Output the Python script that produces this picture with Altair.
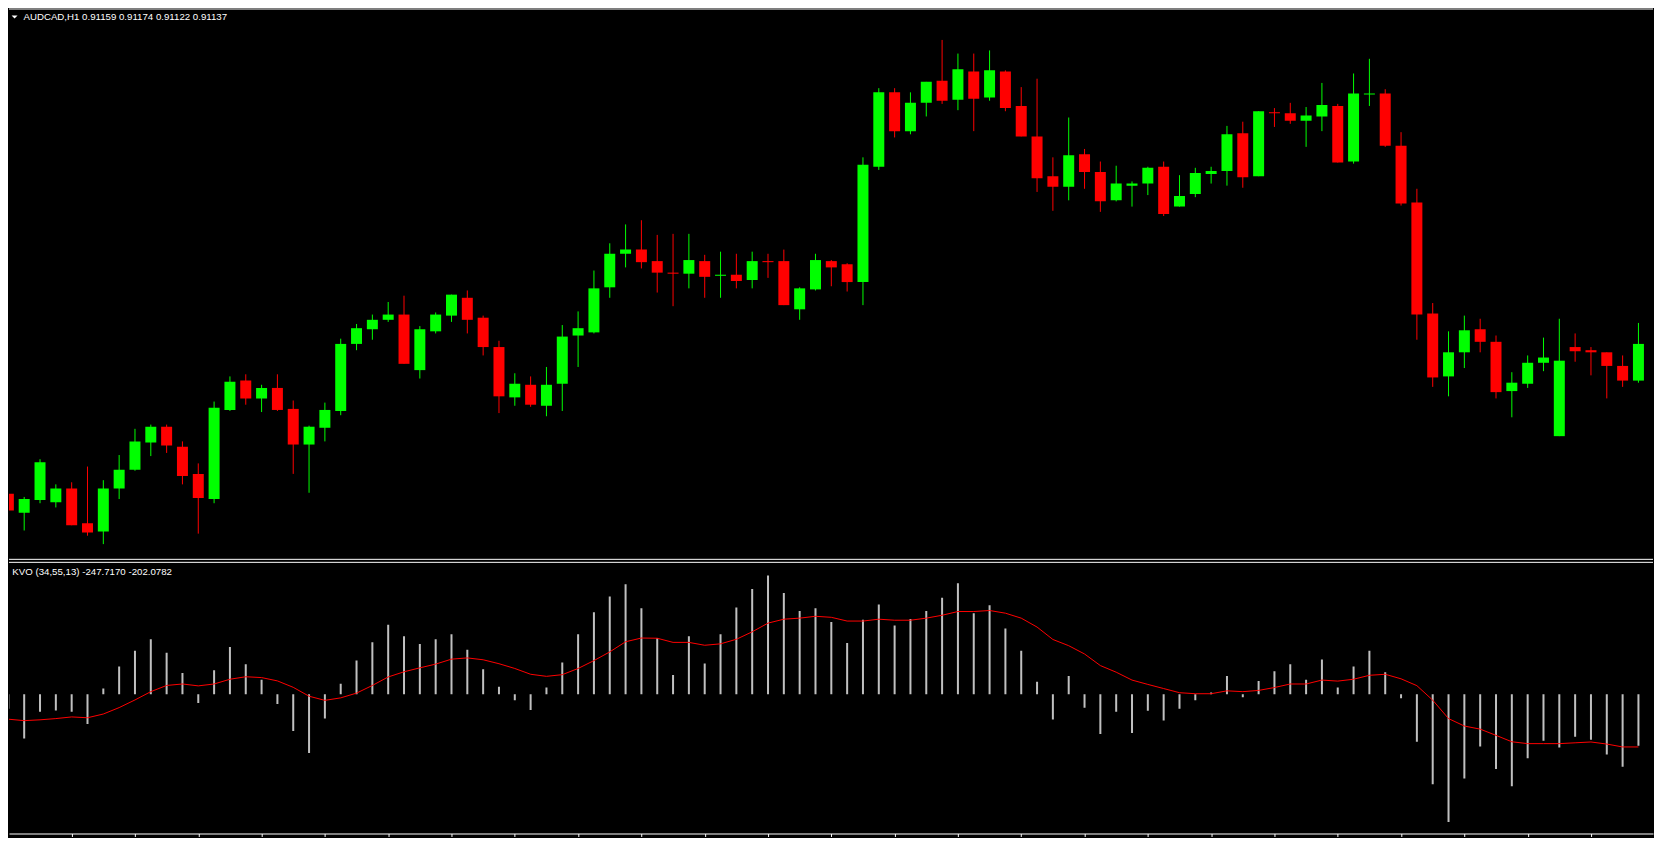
import altair as alt
import pandas as pd

# ---------------- data ----------------
header_text = "AUDCAD,H1  0.91159 0.91174 0.91122 0.91137"
kvo_text = "KVO (34,55,13)  -247.7170 -202.0782"

opens = [0.90986, 0.90968, 0.90980, 0.90978, 0.90991, 0.90958, 0.90950, 0.90991, 0.91009, 0.91035,
         0.91050, 0.91031, 0.91005, 0.90981, 0.91066, 0.91094, 0.91077, 0.91087, 0.91067, 0.91033,
         0.91049, 0.91065, 0.91129, 0.91143, 0.91152, 0.91157, 0.91104, 0.91141, 0.91156, 0.91173,
         0.91154, 0.91126, 0.91078, 0.91090, 0.91070, 0.91091, 0.91137, 0.91140, 0.91183, 0.91215,
         0.91219, 0.91208, 0.91197, 0.91196, 0.91208, 0.91194, 0.91195, 0.91190, 0.91208, 0.91208,
         0.91162, 0.91181, 0.91208, 0.91205, 0.91188, 0.91298, 0.91369, 0.91332, 0.91359, 0.91380,
         0.91362, 0.91389, 0.91364, 0.91389, 0.91356, 0.91327, 0.91289, 0.91279, 0.91310, 0.91293,
         0.91266, 0.91280, 0.91282, 0.91298, 0.91260, 0.91272, 0.91291, 0.91294, 0.91330, 0.91289,
         0.91350, 0.91349, 0.91342, 0.91346, 0.91356, 0.91303, 0.91367, 0.91368, 0.91318, 0.91264,
         0.91158, 0.91098, 0.91121, 0.91143, 0.91131, 0.91084, 0.91091, 0.91111, 0.91041, 0.91126,
         0.91123, 0.91121, 0.91108, 0.91094]

highs = [0.90988, 0.90983, 0.91019, 0.90995, 0.90997, 0.91012, 0.90999, 0.91023, 0.91048, 0.91052,
         0.91052, 0.91036, 0.91015, 0.91074, 0.91098, 0.91100, 0.91090, 0.91100, 0.91075, 0.91051,
         0.91073, 0.91134, 0.91148, 0.91157, 0.91169, 0.91175, 0.91146, 0.91159, 0.91176, 0.91180,
         0.91156, 0.91132, 0.91101, 0.91098, 0.91107, 0.91147, 0.91160, 0.91199, 0.91225, 0.91243,
         0.91247, 0.91233, 0.91234, 0.91234, 0.91214, 0.91217, 0.91215, 0.91217, 0.91215, 0.91219,
         0.91183, 0.91215, 0.91209, 0.91206, 0.91307, 0.91373, 0.91373, 0.91369, 0.91379, 0.91419,
         0.91406, 0.91406, 0.91409, 0.91390, 0.91374, 0.91382, 0.91307, 0.91345, 0.91315, 0.91303,
         0.91299, 0.91284, 0.91298, 0.91303, 0.91290, 0.91297, 0.91298, 0.91337, 0.91341, 0.91351,
         0.91354, 0.91359, 0.91355, 0.91378, 0.91358, 0.91387, 0.91401, 0.91372, 0.91331, 0.91277,
         0.91168, 0.91141, 0.91156, 0.91153, 0.91137, 0.91102, 0.91118, 0.91135, 0.91153, 0.91139,
         0.91126, 0.91121, 0.91118, 0.91149]

lows = [0.90968, 0.90951, 0.90977, 0.90973, 0.90956, 0.90946, 0.90938, 0.90981, 0.91008, 0.91022,
        0.91025, 0.90995, 0.90948, 0.90977, 0.91065, 0.91071, 0.91064, 0.91065, 0.91005, 0.90987,
        0.91036, 0.91061, 0.91123, 0.91133, 0.91150, 0.91110, 0.91096, 0.91139, 0.91150, 0.91139,
        0.91118, 0.91063, 0.91070, 0.91069, 0.91060, 0.91065, 0.91107, 0.91139, 0.91173, 0.91202,
        0.91201, 0.91178, 0.91165, 0.91182, 0.91173, 0.91173, 0.91182, 0.91182, 0.91192, 0.91166,
        0.91152, 0.91180, 0.91184, 0.91179, 0.91166, 0.91295, 0.91326, 0.91329, 0.91346, 0.91358,
        0.91352, 0.91332, 0.91361, 0.91351, 0.91327, 0.91274, 0.91256, 0.91266, 0.91277, 0.91255,
        0.91265, 0.91260, 0.91271, 0.91251, 0.91260, 0.91269, 0.91282, 0.91280, 0.91278, 0.91289,
        0.91336, 0.91339, 0.91317, 0.91332, 0.91302, 0.91301, 0.91356, 0.91317, 0.91261, 0.91133,
        0.91088, 0.91079, 0.91106, 0.91121, 0.91077, 0.91059, 0.91087, 0.91103, 0.91041, 0.91112,
        0.91099, 0.91077, 0.91088, 0.91092]

closes = [0.90970, 0.90981, 0.91016, 0.90991, 0.90956, 0.90949, 0.90991, 0.91009, 0.91036, 0.91050,
          0.91032, 0.91003, 0.90982, 0.91068, 0.91093, 0.91077, 0.91087, 0.91066, 0.91033, 0.91050,
          0.91066, 0.91129, 0.91144, 0.91152, 0.91157, 0.91110, 0.91143, 0.91157, 0.91176, 0.91152,
          0.91126, 0.91079, 0.91091, 0.91071, 0.91090, 0.91136, 0.91144, 0.91182, 0.91215, 0.91219,
          0.91207, 0.91197, 0.91196, 0.91209, 0.91193, 0.91195, 0.91189, 0.91208, 0.91207, 0.91166,
          0.91182, 0.91209, 0.91202, 0.91188, 0.91300, 0.91369, 0.91332, 0.91359, 0.91379, 0.91361,
          0.91391, 0.91363, 0.91390, 0.91354, 0.91327, 0.91287, 0.91279, 0.91309, 0.91293, 0.91265,
          0.91282, 0.91282, 0.91297, 0.91253, 0.91270, 0.91292, 0.91294, 0.91329, 0.91288, 0.91351,
          0.91349, 0.91342, 0.91347, 0.91357, 0.91302, 0.91368, 0.91368, 0.91318, 0.91263, 0.91157,
          0.91097, 0.91121, 0.91142, 0.91131, 0.91083, 0.91092, 0.91111, 0.91116, 0.91113, 0.91122,
          0.91121, 0.91108, 0.91094, 0.91129]

kvo_hist = [-70, -213, -84, -78, -84, -143, 28, 135, 210, 266,
            201, 103, -42, 117, 229, 145, 70, -47, -177, -283,
            -117, 51, 163, 252, 336, 280, 243, 266, 290, 215,
            121, 37, -28, -75, 33, 154, 290, 397, 472, 532,
            416, 271, 93, 280, 149, 290, 420, 509, 574, 490,
            402, 416, 350, 248, 360, 434, 332, 364, 402, 467,
            537, 392, 430, 318, 210, 61, -121, 89, -65, -191,
            -84, -187, -79, -126, -70, -28, 9, 89, -14, 65,
            112, 145, 70, 168, 33, 135, 210, 107, -19, -229,
            -434, -616, -406, -252, -360, -444, -308, -224, -257, -205,
            -219, -290, -350, -247.717]

kvo_signal = [-120, -127, -123, -117, -109, -113, -95, -64, -27, 13,
              43, 50, 41, 50, 73, 85, 81, 65, 34, -9,
              -29, -17, 6, 43, 84, 109, 128, 146, 170, 176,
              167, 148, 125, 97, 87, 95, 125, 163, 205, 254,
              272, 271, 251, 251, 237, 244, 266, 302, 344, 363,
              368, 377, 372, 354, 354, 363, 358, 358, 368, 382,
              400, 400, 405, 392, 368, 325, 265, 235, 195, 139,
              107, 69, 48, 28, 8, 3, 3, 17, 13, 19,
              33, 50, 50, 69, 64, 73, 92, 97, 75, 42,
              -28, -117, -153, -168, -198, -229, -238, -238, -238, -234,
              -230, -240, -254, -254]

tick_bars = list(range(4, 101, 4))

# ---------------- layout ----------------
W = 1646
H1 = 552
H2 = 272
XDOM = [0.04, 103.92]
PRICE_DOM = [0.90923, 0.91449]
KVO_DOM = [-672, 640]

n = len(opens)
df = pd.DataFrame({"bar": list(range(n)), "open": opens, "high": highs,
                   "low": lows, "close": closes})
df["dir"] = ["up" if c >= o else "down" for o, c in zip(opens, closes)]

kdf = pd.DataFrame({"bar": list(range(n)), "hist": kvo_hist, "signal": kvo_signal})
one = pd.DataFrame({"a": [0]})

color = alt.Color("dir:N", scale=alt.Scale(domain=["up", "down"], range=["#00ff00", "#ff0000"]),
                  legend=None)
xp = alt.X("bar:Q", scale=alt.Scale(domain=XDOM, nice=False, zero=False, padding=0), axis=None)
yp = alt.Scale(domain=PRICE_DOM, nice=False, zero=False, padding=0)

wicks = alt.Chart(df).mark_rule(strokeWidth=1, clip=True).encode(
    x=xp, y=alt.Y("low:Q", scale=yp, axis=None), y2="high:Q", color=color)
bodies = alt.Chart(df).mark_bar(size=11, clip=True).encode(
    x=xp, y=alt.Y("open:Q", scale=yp, axis=None), y2="close:Q", color=color)

top_rule = alt.Chart(one).mark_rule(color="#ffffff", strokeWidth=1).encode(
    x=alt.value(0), x2=alt.value(W), y=alt.value(0.5))
bot_rule = alt.Chart(one).mark_rule(color="#ffffff", strokeWidth=1).encode(
    x=alt.value(0), x2=alt.value(W), y=alt.value(H1 - 0.5))
tri = alt.Chart(one).mark_point(shape="M-1,-0.5L1,-0.5L0,0.5Z", filled=True, color="#ffffff",
                                opacity=1, size=36).encode(x=alt.value(5.6), y=alt.value(8.6))
head = alt.Chart(one).mark_text(text=header_text, align="left", baseline="alphabetic",
                                font="Liberation Sans", fontSize=9.7, color="#ffffff").encode(
    x=alt.value(14.5), y=alt.value(11.2))

price = alt.layer(wicks, bodies, top_rule, bot_rule, tri, head).properties(width=W, height=H1)

xk = alt.X("bar:Q", scale=alt.Scale(domain=XDOM, nice=False, zero=False, padding=0),
           axis=alt.Axis(values=tick_bars, labels=False, title=None, grid=False,
                         domainColor="#ffffff", tickColor="#ffffff", tickSize=3,
                         domainWidth=1, tickWidth=1))
yk = alt.Scale(domain=KVO_DOM, nice=False, zero=False, padding=0)

hist = alt.Chart(kdf).mark_bar(size=2, color="#c0c0c0", clip=True).encode(
    x=xk, y=alt.Y("hist:Q", scale=yk, axis=None), y2=alt.datum(0))
sig = alt.Chart(kdf).mark_line(color="#ff0000", strokeWidth=1, clip=True).encode(
    x=xk, y=alt.Y("signal:Q", scale=yk, axis=None))
k_top = alt.Chart(one).mark_rule(color="#ffffff", strokeWidth=1).encode(
    x=alt.value(0), x2=alt.value(W), y=alt.value(0.5))
k_lab = alt.Chart(one).mark_text(text=kvo_text, align="left", baseline="alphabetic",
                                 font="Liberation Sans", fontSize=9.7, color="#ffffff").encode(
    x=alt.value(3.3), y=alt.value(12.8))

kvo = alt.layer(hist, sig, k_top, k_lab).properties(width=W, height=H2)

chart = alt.vconcat(price, kvo, spacing=2).properties(
    padding=0, background="#000000").configure_view(stroke=None)

chart.save("out.html", embed_options={"renderer": "svg", "actions": False})
